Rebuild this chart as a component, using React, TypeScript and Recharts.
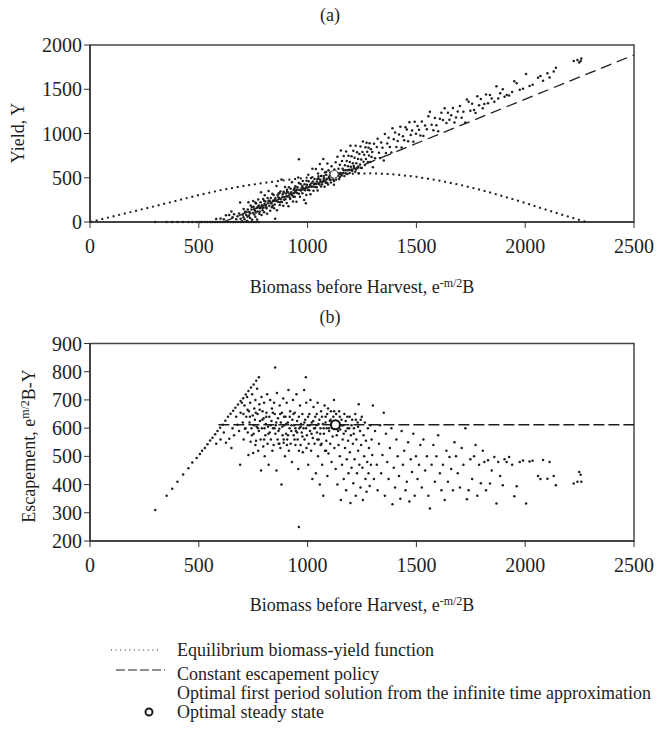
import React from 'react';
import { ScatterChart, Scatter, XAxis, YAxis, ReferenceArea } from 'recharts';

const biomassTicks = [0, 500, 1000, 1500, 2000, 2500];
const yieldTicks = [0, 500, 1000, 1500, 2000];
const escapementTicks = [200, 300, 400, 500, 600, 700, 800, 900];

// equilibrium biomass-yield function (dotted curve in panel a)
const equilibriumCurve: [number, number][] = [
  [0, 0], [100, 60], [200, 120], [300, 180], [400, 242], [500, 305], [600, 360], [700, 405],
  [800, 442], [900, 474], [1000, 502], [1100, 528], [1200, 546], [1300, 550], [1400, 538],
  [1500, 510], [1600, 470], [1700, 420], [1800, 360], [1900, 290], [2000, 215], [2100, 135],
  [2200, 60], [2280, 0],
];

// constant escapement policy
const policyYield: [number, number][] = [[612, 0], [2500, 1888]];
const policyEscapement: [number, number][] = [[590, 612], [2500, 612]];

// optimal steady state
const steadyYield: [number, number][] = [[1122, 540]];
const steadyEscapement: [number, number][] = [[1128, 612]];

// optimal first period solution: biomass vs yield (panel a)
const yieldPoints: [number, number][] = [
  [300, 0], [352, 0], [378, 0], [402, 0], [428, 0], [452, 0], [470, 0], [490, 0], [505, 0], [515, 0],
  [528, 0], [540, 0], [552, 0], [563, 0], [575, 0], [586, 0], [598, 0], [610, 0], [622, 0], [634, 0],
  [646, 0], [658, 0], [668, 0], [680, 0], [692, 0], [704, 0], [716, 0], [728, 0], [740, 0], [752, 0],
  [764, 0], [776, 0],
  [580, 35], [600, 40], [615, 30], [625, 77], [640, 78], [650, 120], [655, 55], [662, 87], [672, 32],
  [678, 66], [685, 95], [690, 220], [692, 37], [698, 8], [702, 82], [706, 146], [710, 30], [712, 114],
  [718, 78], [722, 12], [725, 140], [728, 223], [730, 70], [733, 113], [736, 46], [738, 186], [742, 142],
  [745, 25], [748, 103], [750, 238], [752, 172], [755, 85], [758, 128], [760, 60], [763, 208], [766, 161],
  [768, 28], [770, 120], [773, 253], [776, 186], [778, 93], [781, 156], [784, 224], [786, 336], [788, 78],
  [790, 190], [793, 133], [796, 261], [798, 163], [800, 110], [803, 303], [806, 231], [808, 193], [811, 156],
  [814, 94], [816, 271], [818, 213], [821, 351], [824, 184], [826, 241], [828, 128], [831, 271], [834, 209],
  [836, 166], [838, 318], [841, 241], [844, 304], [846, 156], [849, 199], [851, 36], [852, 272], [854, 244],
  [857, 407], [859, 134], [862, 302], [864, 229], [867, 322], [870, 272], [872, 192], [875, 345], [877, 257],
  [880, 480], [882, 227], [885, 310], [888, 183], [890, 342], [893, 283], [896, 396], [898, 258], [901, 321],
  [904, 214], [906, 346], [909, 289], [912, 177], [914, 394], [917, 317], [920, 260], [922, 377], [925, 335],
  [928, 448], [930, 300], [933, 233], [936, 361], [938, 328], [941, 286], [944, 404], [946, 356], [949, 229],
  [952, 327], [954, 394], [957, 502], [960, 710], [962, 362], [965, 285], [968, 428], [970, 355], [973, 388],
  [976, 326], [978, 463], [981, 381], [984, 249], [986, 426], [989, 359], [992, 212], [994, 304], [997, 422],
  [1000, 390], [1003, 533], [1005, 460], [1008, 358], [1011, 421], [1013, 313], [1016, 496], [1019, 399],
  [1022, 602], [1024, 459], [1027, 352], [1030, 430], [1032, 487], [1035, 395], [1038, 598], [1040, 430],
  [1043, 458], [1046, 356], [1048, 548], [1051, 491], [1054, 424], [1056, 656], [1059, 459], [1062, 402],
  [1064, 519], [1067, 597], [1070, 455], [1072, 712], [1075, 495], [1078, 398], [1080, 560], [1083, 443],
  [1086, 531], [1088, 488], [1091, 661], [1094, 424], [1096, 586], [1099, 509], [1102, 477], [1104, 559],
  [1107, 447], [1110, 630], [1112, 507], [1115, 545], [1118, 478], [1121, 421], [1123, 593], [1126, 526],
  [1129, 674], [1131, 481], [1134, 559], [1137, 737], [1139, 524], [1142, 602], [1145, 485], [1148, 648],
  [1150, 555], [1153, 808], [1156, 526], [1158, 688], [1161, 601], [1164, 554], [1166, 746], [1169, 519],
  [1172, 642], [1175, 585], [1177, 797], [1180, 690], [1183, 543], [1186, 631], [1188, 748], [1191, 591],
  [1194, 679], [1197, 862], [1199, 624], [1202, 742], [1205, 575], [1208, 663], [1210, 805], [1213, 613],
  [1216, 726], [1219, 569], [1221, 861], [1224, 664], [1227, 787], [1230, 610], [1232, 712], [1235, 550],
  [1238, 768], [1241, 651], [1243, 853], [1246, 706], [1249, 609], [1252, 792], [1254, 909], [1257, 682],
  [1260, 760], [1263, 643], [1266, 846], [1268, 713], [1271, 896], [1274, 794], [1277, 677], [1280, 840],
  [1282, 752], [1285, 890], [1288, 678], [1291, 821], [1294, 734], [1297, 792], [1300, 620],
  [1305, 885], [1310, 720], [1318, 848], [1322, 942], [1328, 783], [1333, 723], [1338, 898], [1344, 839],
  [1350, 695], [1355, 995], [1360, 780], [1366, 886], [1372, 952], [1378, 848], [1385, 785], [1390, 1060],
  [1396, 936], [1402, 1012], [1408, 848], [1414, 914], [1420, 990], [1426, 1076], [1432, 842], [1438, 968],
  [1444, 924], [1450, 1070], [1456, 1046], [1462, 912], [1468, 1128], [1474, 984], [1480, 1035], [1486, 906],
  [1492, 1132], [1498, 998], [1505, 1085], [1512, 1042], [1518, 978], [1525, 1135], [1532, 972], [1540, 1090],
  [1548, 1048], [1555, 1195], [1562, 1247], [1570, 1100], [1578, 1038], [1585, 1175], [1592, 1092],
  [1600, 1025], [1608, 1168], [1615, 1235], [1622, 1152], [1630, 1285], [1638, 1118], [1645, 1235],
  [1652, 1154], [1660, 1205], [1668, 1288], [1675, 1125], [1682, 1182], [1690, 1250], [1700, 1310],
  [1708, 1178], [1716, 1246], [1725, 1125], [1732, 1384], [1740, 1360], [1748, 1258], [1756, 1336],
  [1765, 1265], [1772, 1232], [1780, 1420], [1788, 1318], [1796, 1391], [1805, 1285], [1812, 1332],
  [1820, 1440], [1829, 1343], [1838, 1434], [1846, 1396], [1858, 1360], [1868, 1535], [1876, 1396],
  [1885, 1455], [1897, 1499], [1905, 1415], [1915, 1435], [1926, 1428], [1940, 1470], [1950, 1591],
  [1961, 1567], [1975, 1495], [1990, 1505], [2004, 1671], [2020, 1538], [2034, 1550], [2059, 1629],
  [2070, 1650], [2082, 1595], [2102, 1681], [2112, 1632], [2131, 1701], [2141, 1743], [2223, 1819],
  [2240, 1830], [2248, 1803], [2255, 1820], [2258, 1848],
  // dense core
  [705, 55], [715, 115], [724, 59], [735, 95], [744, 169], [754, 144], [762, 107], [772, 172], [780, 115],
  [792, 162], [802, 202], [810, 170], [820, 240], [830, 220], [840, 185], [848, 248], [856, 236], [866, 276],
  [874, 224], [884, 279], [892, 252], [902, 287], [910, 335], [918, 278], [926, 316], [935, 285], [944, 344],
  [952, 367], [960, 320], [968, 363], [976, 406], [985, 365], [993, 393], [1002, 362], [1010, 400], [1018, 438],
  [1026, 401], [1034, 434], [1042, 392], [1050, 435], [1058, 478], [1066, 426], [1074, 474], [1082, 462],
  [1090, 440], [1098, 498], [1106, 476], [1114, 514], [1122, 462], [1130, 510], [1140, 550], [1148, 508],
  [1157, 547], [1166, 586], [1175, 550], [1184, 584], [1193, 553], [1202, 592], [1212, 632], [1222, 592],
  [1232, 627], [1244, 614], [870, 325], [890, 330], [905, 365], [940, 380], [1060, 520], [1085, 565],
  [1045, 485], [995, 465], [960, 440], [800, 240], [760, 220],
];

// optimal first period solution: biomass vs escapement (panel b)
const escapementPoints: [number, number][] = [
  [300, 310], [352, 360], [378, 385], [402, 410], [428, 436], [452, 458], [470, 478], [490, 494],
  [505, 508], [515, 520], [528, 530], [540, 543], [552, 556], [563, 566], [575, 578], [586, 590],
  [598, 601], [610, 612], [622, 626], [634, 640], [646, 651], [658, 662], [668, 672], [680, 684],
  [692, 696], [704, 706], [716, 719], [728, 732], [740, 744], [752, 755], [764, 768], [776, 780],
  [580, 545], [600, 560], [615, 585], [625, 548], [640, 562], [650, 530], [655, 600], [662, 575], [672, 640],
  [678, 612], [685, 590], [690, 470], [692, 655], [698, 690], [702, 620], [706, 560], [710, 680], [712, 598],
  [718, 640], [722, 710], [725, 585], [728, 505], [730, 660], [733, 620], [736, 690], [738, 552], [742, 600],
  [745, 720], [748, 645], [750, 512], [752, 580], [755, 670], [758, 630], [760, 700], [763, 555], [766, 605],
  [768, 740], [770, 650], [773, 520], [776, 590], [778, 685], [781, 625], [784, 560], [786, 450], [788, 710],
  [790, 600], [793, 660], [796, 535], [798, 635], [800, 690], [803, 500], [806, 575], [808, 615], [811, 655],
  [814, 720], [816, 545], [818, 605], [821, 470], [824, 640], [826, 585], [828, 700], [831, 560], [834, 625],
  [836, 670], [838, 520], [841, 600], [844, 540], [846, 690], [849, 650], [851, 815], [852, 580], [854, 610],
  [857, 450], [859, 725], [862, 560], [864, 635], [867, 545], [870, 598], [872, 680], [875, 530], [877, 620],
  [880, 400], [882, 655], [885, 575], [888, 705], [890, 548], [893, 610], [896, 500], [898, 640], [901, 580],
  [904, 690], [906, 560], [909, 620], [912, 735], [914, 520], [917, 600], [920, 660], [922, 545], [925, 590],
  [928, 480], [930, 630], [933, 700], [936, 575], [938, 610], [941, 655], [944, 540], [946, 590], [949, 720],
  [952, 625], [954, 560], [957, 455], [960, 250], [962, 600], [965, 680], [968, 540], [970, 615], [973, 585],
  [976, 650], [978, 515], [981, 600], [984, 735], [986, 560], [989, 630], [992, 780], [994, 690], [997, 575],
  [1000, 610], [1003, 470], [1005, 545], [1008, 650], [1011, 590], [1013, 700], [1016, 520], [1019, 620],
  [1022, 420], [1024, 565], [1027, 675], [1030, 600], [1032, 545], [1035, 640], [1038, 440], [1040, 610],
  [1043, 585], [1046, 690], [1048, 500], [1051, 560], [1054, 630], [1056, 400], [1059, 600], [1062, 660],
  [1064, 545], [1067, 470], [1070, 615], [1072, 360], [1075, 580], [1078, 680], [1080, 520], [1083, 640],
  [1086, 555], [1088, 600], [1091, 430], [1094, 670], [1096, 510], [1099, 590], [1102, 625], [1104, 545],
  [1107, 660], [1110, 480], [1112, 605], [1115, 570], [1118, 640], [1121, 700], [1123, 530], [1126, 600],
  [1129, 455], [1131, 650], [1134, 575], [1137, 400], [1139, 615], [1142, 540], [1145, 660], [1148, 500],
  [1150, 595], [1153, 345], [1156, 630], [1158, 470], [1161, 560], [1164, 610], [1166, 420], [1169, 650],
  [1172, 530], [1175, 590], [1177, 380], [1180, 490], [1183, 640], [1186, 555], [1188, 440], [1191, 600],
  [1194, 515], [1197, 335], [1199, 575], [1202, 460], [1205, 630], [1208, 545], [1210, 405], [1213, 600],
  [1216, 490], [1219, 650], [1221, 360], [1224, 560], [1227, 440], [1230, 620], [1232, 520], [1235, 685],
  [1238, 470], [1241, 590], [1243, 390], [1246, 540], [1249, 640], [1252, 460], [1254, 345], [1257, 575],
  [1260, 500], [1263, 620], [1266, 420], [1268, 555], [1271, 375], [1274, 480], [1277, 600], [1280, 440],
  [1282, 530], [1285, 395], [1288, 610], [1291, 470], [1294, 560], [1297, 505], [1300, 680],
  [1305, 420], [1310, 590], [1318, 470], [1322, 380], [1328, 545], [1333, 610], [1338, 440], [1344, 505],
  [1350, 655], [1355, 360], [1360, 580], [1366, 480], [1372, 420], [1378, 530], [1385, 600], [1390, 330],
  [1396, 460], [1402, 390], [1408, 560], [1414, 500], [1420, 430], [1426, 350], [1432, 590], [1438, 470],
  [1444, 520], [1450, 380], [1456, 410], [1462, 550], [1468, 340], [1474, 490], [1480, 445], [1486, 580],
  [1492, 360], [1498, 500], [1505, 420], [1512, 470], [1518, 540], [1525, 390], [1532, 560], [1540, 450],
  [1548, 500], [1555, 360], [1562, 315], [1570, 470], [1578, 540], [1585, 410], [1592, 500], [1600, 575],
  [1608, 440], [1615, 380], [1622, 470], [1630, 345], [1638, 520], [1645, 410], [1652, 498], [1660, 455],
  [1668, 380], [1675, 550], [1682, 500], [1690, 440], [1700, 390], [1708, 530], [1716, 470], [1725, 600],
  [1732, 348], [1740, 380], [1748, 490], [1756, 420], [1765, 500], [1772, 540], [1780, 360], [1788, 470],
  [1796, 405], [1805, 520], [1812, 480], [1820, 380], [1829, 486], [1838, 404], [1846, 450], [1858, 498],
  [1868, 333], [1876, 480], [1885, 430], [1897, 398], [1905, 490], [1915, 480], [1926, 498], [1940, 470],
  [1950, 359], [1961, 394], [1975, 480], [1990, 485], [2004, 333], [2020, 482], [2034, 484], [2059, 430],
  [2070, 420], [2082, 487], [2102, 421], [2112, 480], [2131, 430], [2141, 398], [2223, 404], [2240, 410],
  [2248, 445], [2255, 435], [2258, 410],
  // dense core
  [705, 650], [715, 600], [724, 665], [735, 640], [744, 575], [754, 610], [762, 655], [772, 600], [780, 665],
  [792, 630], [802, 600], [810, 640], [820, 580], [830, 610], [840, 655], [848, 600], [856, 620], [866, 590],
  [874, 650], [884, 605], [892, 640], [902, 615], [910, 575], [918, 640], [926, 610], [935, 650], [944, 600],
  [952, 585], [960, 640], [968, 605], [976, 570], [985, 620], [993, 600], [1002, 640], [1010, 610], [1018, 580],
  [1026, 625], [1034, 600], [1042, 650], [1050, 615], [1058, 580], [1066, 640], [1074, 600], [1082, 620],
  [1090, 650], [1098, 600], [1106, 630], [1114, 600], [1122, 660], [1130, 620], [1140, 590], [1148, 640],
  [1157, 610], [1166, 580], [1175, 625], [1184, 600], [1193, 640], [1202, 610], [1212, 580], [1222, 630],
  [1232, 605], [1244, 630], [870, 545], [890, 560], [905, 540], [940, 560], [1060, 540], [1085, 520],
  [1045, 560], [995, 530], [960, 520], [800, 560], [760, 540],
];

const FONT = '"Liberation Serif", "Times New Roman", serif';
const INK = '#1e1e1e';

const toXY = (pts: [number, number][]) => pts.map(([x, y]) => ({ x, y }));

const Dot = (props: any) => <circle cx={props.cx} cy={props.cy} r={1.25} fill={INK} />;
const NoShape = () => <g />;
const RingWhite = (props: any) => (
  <circle cx={props.cx} cy={props.cy} r={4} fill="#fff" stroke="#555" strokeWidth={1} />
);
const Ring = (props: any) => (
  <circle cx={props.cx} cy={props.cy} r={4.5} fill="#fff" stroke="#111" strokeWidth={2} />
);

const tickStyle = { fontSize: 20, fontFamily: FONT, fill: INK };

const BiomassLabel = ({ top }: { top: number }) => (
  <div style={{ position: 'absolute', left: 362, top, transform: 'translate(-50%, -50%)', whiteSpace: 'nowrap', fontFamily: FONT, fontSize: 18, color: INK, lineHeight: '20px' }}>
    Biomass before Harvest, e<sup style={{ fontSize: 12, verticalAlign: 6 }}>-m/2</sup>B
  </div>
);

const Title = ({ text, top }: { text: string; top: number }) => (
  <div style={{ position: 'absolute', left: 330, top, transform: 'translate(-50%, -50%)', fontFamily: FONT, fontSize: 18, color: INK, lineHeight: '20px' }}>
    {text}
  </div>
);

const VLabel = ({ x, y, children }: { x: number; y: number; children: React.ReactNode }) => (
  <div style={{ position: 'absolute', left: x, top: y, transform: 'translate(-50%, -50%) rotate(-90deg)', whiteSpace: 'nowrap', fontFamily: FONT, fontSize: 18, color: INK, lineHeight: '20px' }}>
    {children}
  </div>
);

const legendText = (top: number, text: string) => (
  <div style={{ position: 'absolute', left: 177, top: top - 10, whiteSpace: 'nowrap', fontFamily: FONT, fontSize: 18, color: INK, lineHeight: '20px' }}>
    {text}
  </div>
);

export default function App() {
  return (
    <div style={{ position: 'absolute', left: 0, top: 0, width: 665, height: 737, background: '#fff', overflow: 'hidden' }}>
      <Title text="(a)" top={15} />
      <div style={{ position: 'absolute', left: 0, top: 0 }}>
        <ScatterChart width={665} height={262} margin={{ top: 45, right: 31, bottom: 0, left: 0 }}>
          <XAxis type="number" dataKey="x" domain={[0, 2500]} ticks={biomassTicks} interval={0}
            height={40} tickSize={6} tickMargin={11} tick={tickStyle}
            axisLine={{ stroke: '#333', strokeWidth: 1.5 }} tickLine={{ stroke: '#333' }} />
          <YAxis type="number" dataKey="y" domain={[0, 2000]} ticks={yieldTicks} interval={0}
            width={90} tickSize={6} tickMargin={2} tick={tickStyle}
            axisLine={{ stroke: '#333', strokeWidth: 1.5 }} tickLine={{ stroke: '#333' }} />
          <ReferenceArea x1={0} x2={2500} y1={0} y2={2000} fill="none" stroke="#444" strokeWidth={1.5} />
          <Scatter data={toXY(equilibriumCurve)} shape={NoShape} line={{ stroke: INK, strokeWidth: 2, strokeDasharray: '2 3.8' }} lineType="joint" isAnimationActive={false} />
          <Scatter data={toXY(policyYield)} shape={NoShape} line={{ stroke: INK, strokeWidth: 1.3, strokeDasharray: '11 6' }} lineType="joint" isAnimationActive={false} />
          <Scatter data={toXY(yieldPoints)} shape={Dot} isAnimationActive={false} />
          <Scatter data={toXY(steadyYield)} shape={RingWhite} isAnimationActive={false} />
        </ScatterChart>
      </div>
      <VLabel x={18} y={133}>Yield, Y</VLabel>
      <BiomassLabel top={285} />

      <Title text="(b)" top={317} />
      <div style={{ position: 'absolute', left: 0, top: 300 }}>
        <ScatterChart width={665} height={281} margin={{ top: 43.5, right: 31, bottom: 0, left: 0 }}>
          <XAxis type="number" dataKey="x" domain={[0, 2500]} ticks={biomassTicks} interval={0}
            height={40} tickSize={6} tickMargin={11} tick={tickStyle}
            axisLine={{ stroke: '#333', strokeWidth: 1.5 }} tickLine={{ stroke: '#333' }} />
          <YAxis type="number" dataKey="y" domain={[200, 900]} ticks={escapementTicks} interval={0}
            width={90} tickSize={6} tickMargin={2} tick={tickStyle}
            axisLine={{ stroke: '#333', strokeWidth: 1.5 }} tickLine={{ stroke: '#333' }} />
          <ReferenceArea x1={0} x2={2500} y1={200} y2={900} fill="none" stroke="#444" strokeWidth={1.5} />
          <Scatter data={toXY(policyEscapement)} shape={NoShape} line={{ stroke: INK, strokeWidth: 1.3, strokeDasharray: '11 4' }} lineType="joint" isAnimationActive={false} />
          <Scatter data={toXY(escapementPoints)} shape={Dot} isAnimationActive={false} />
          <Scatter data={toXY(steadyEscapement)} shape={Ring} isAnimationActive={false} />
        </ScatterChart>
      </div>
      <VLabel x={27} y={446}>
        Escapement, e<sup style={{ fontSize: 12, verticalAlign: 6 }}>m/2</sup>B-Y
      </VLabel>
      <BiomassLabel top={603} />

      <svg width={665} height={737} style={{ position: 'absolute', left: 0, top: 0, pointerEvents: 'none' }}>
        <line x1={111} y1={650} x2={158} y2={650} stroke={INK} strokeWidth={1} strokeDasharray="1 3.6" />
        <line x1={116} y1={670} x2={165} y2={670} stroke={INK} strokeWidth={1} strokeDasharray="9 3" />
        <circle cx={149} cy={712} r={3.5} fill="#fff" stroke={INK} strokeWidth={2} />
      </svg>
      {legendText(650, 'Equilibrium biomass-yield function')}
      {legendText(674, 'Constant escapement policy')}
      {legendText(693, 'Optimal first period solution from the infinite time approximation')}
      {legendText(712, 'Optimal steady state')}
    </div>
  );
}
